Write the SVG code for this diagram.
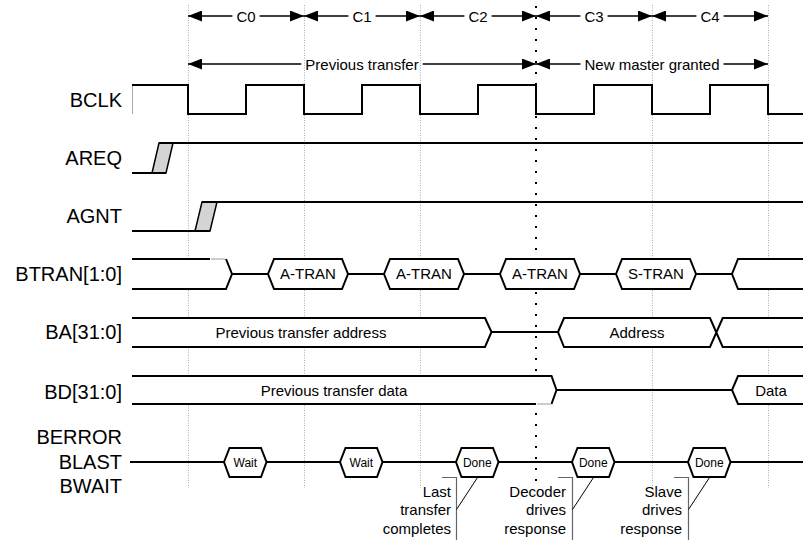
<svg xmlns="http://www.w3.org/2000/svg" width="808" height="540" viewBox="0 0 808 540">
<defs>
<marker id="ah" markerWidth="14" markerHeight="11" refX="14" refY="5.5" orient="auto-start-reverse" markerUnits="userSpaceOnUse"><path d="M0,0 L14,5.5 L0,11 z" fill="#000"/></marker>
</defs>
<style>
text{font-family:"Liberation Sans",Arial,Helvetica,sans-serif;fill:#000}
.lbl{font-size:20px;text-anchor:end}
.t15{font-size:15px;text-anchor:middle}
.t12{font-size:12px;text-anchor:middle}
.note{font-size:15px;text-anchor:end}
.w{fill:none;stroke:#000;stroke-width:2}
.fillw{fill:#fff;stroke:none}
.hex{fill:#fff;stroke:#000;stroke-width:2}
.grid{stroke:#aaa;stroke-width:1;stroke-dasharray:1 1.5}
.mark{stroke:#000;stroke-width:2;stroke-dasharray:2 9}
.arr{stroke:#000;stroke-width:1.3;fill:none}
.tr{fill:#d4d4d4;stroke:#000;stroke-width:1.5}
.faint{fill:none;stroke:#ccc;stroke-width:2}
.call{stroke:#666;stroke-width:1.2;fill:none}
.lead{stroke:#000;stroke-width:1;fill:none}
</style>
<rect width="808" height="540" fill="#fff"/>

<g id="gridlines">
<line class="grid" x1="188.5" y1="5" x2="188.5" y2="488"/>
<line class="grid" x1="304.5" y1="5" x2="304.5" y2="488"/>
<line class="grid" x1="420.5" y1="5" x2="420.5" y2="488"/>
<line class="grid" x1="652.5" y1="5" x2="652.5" y2="488"/>
<line class="grid" x1="768.5" y1="5" x2="768.5" y2="488"/>
<line class="mark" x1="536" y1="6" x2="536" y2="483"/>
</g>

<g id="header">
<line class="arr" x1="188" y1="16" x2="232.4" y2="16" marker-start="url(#ah)"/>
<line class="arr" x1="259.6" y1="16" x2="304" y2="16" marker-end="url(#ah)"/>
<text class="t15" x="246" y="21.5">C0</text>
<line class="arr" x1="304" y1="16" x2="348.4" y2="16" marker-start="url(#ah)"/>
<line class="arr" x1="375.6" y1="16" x2="420" y2="16" marker-end="url(#ah)"/>
<text class="t15" x="362" y="21.5">C1</text>
<line class="arr" x1="420" y1="16" x2="464.4" y2="16" marker-start="url(#ah)"/>
<line class="arr" x1="491.6" y1="16" x2="536" y2="16" marker-end="url(#ah)"/>
<text class="t15" x="478" y="21.5">C2</text>
<line class="arr" x1="536" y1="16" x2="580.4" y2="16" marker-start="url(#ah)"/>
<line class="arr" x1="607.6" y1="16" x2="652" y2="16" marker-end="url(#ah)"/>
<text class="t15" x="594" y="21.5">C3</text>
<line class="arr" x1="652" y1="16" x2="696.4" y2="16" marker-start="url(#ah)"/>
<line class="arr" x1="723.6" y1="16" x2="768" y2="16" marker-end="url(#ah)"/>
<text class="t15" x="710" y="21.5">C4</text>
<line class="arr" x1="188" y1="64" x2="301.3" y2="64" marker-start="url(#ah)"/>
<line class="arr" x1="422.7" y1="64" x2="536" y2="64" marker-end="url(#ah)"/>
<text class="t15" x="362" y="69.5">Previous transfer</text>
<line class="arr" x1="536" y1="64" x2="580.5" y2="64" marker-start="url(#ah)"/>
<line class="arr" x1="723.5" y1="64" x2="768" y2="64" marker-end="url(#ah)"/>
<text class="t15" x="652" y="69.5">New master granted</text>
</g>

<g id="bclk">
<text class="lbl" x="122" y="107">BCLK</text>
<line x1="132.5" y1="85" x2="132.5" y2="114" stroke="#aaa" stroke-width="1"/>
<path class="w" d="M132,85 H188 V114 H246 V85 H304 V114 H362 V85 H420 V114 H478 V85 H536 V114 H594 V85 H652 V114 H710 V85 H768 V114 H803"/>
</g>

<g id="areq">
<text class="lbl" x="122" y="165">AREQ</text>
<polygon class="tr" points="152,173 166,173 173,143 159,143"/>
<path class="w" d="M132,173 H166 M159,143 H803"/>
</g>

<g id="agnt">
<text class="lbl" x="122" y="223">AGNT</text>
<polygon class="tr" points="195,231 210,231 217,202 202,202"/>
<path class="w" d="M132,231 H210 M202,202 H803"/>
</g>

<g id="btran">
<text class="lbl" x="122" y="281">BTRAN[1:0]</text>
<polygon class="fillw" points="132,259 226,259 232,274 226,289 132,289"/>
<path class="w" d="M132,259 H210 M226,259 L232,274 L226,289 H132"/>
<path class="faint" d="M211,259 H225"/>
<path class="w" d="M232,274 H803"/>
<polygon class="hex" points="268,274 274,259 342,259 348,274 342,289 274,289"/>
<text class="t15" x="308" y="279">A-TRAN</text>
<polygon class="hex" points="384,274 390,259 458,259 464,274 458,289 390,289"/>
<text class="t15" x="424" y="279">A-TRAN</text>
<polygon class="hex" points="500,274 506,259 574,259 580,274 574,289 506,289"/>
<text class="t15" x="540" y="279">A-TRAN</text>
<polygon class="hex" points="616,274 622,259 690,259 696,274 690,289 622,289"/>
<text class="t15" x="656" y="279">S-TRAN</text>
<polygon class="fillw" points="803,259 738,259 732,274 738,289 803,289"/>
<path class="w" d="M803,259 H738 L732,274 L738,289 H803"/>
</g>

<g id="ba">
<text class="lbl" x="122" y="339">BA[31:0]</text>
<polygon class="fillw" points="132,318 485,318 491.5,332 485,347 132,347"/>
<path class="w" d="M132,318 H485 L491.5,332 L485,347 H132"/>
<path class="w" d="M491.5,332 H558"/>
<text class="t15" x="301" y="337.5">Previous transfer address</text>
<polygon class="fillw" points="558,332 564,318 710,318 716.3,332 710,347 564,347"/>
<polygon class="fillw" points="716.3,332 722.7,318 803,318 803,347 722.7,347"/>
<path class="w" d="M803,318 H722.7 L710,347 H564 L558,332 L564,318 H710 L722.7,347 H803"/>
<text class="t15" x="637" y="337.5">Address</text>
</g>

<g id="bd">
<text class="lbl" x="122" y="399">BD[31:0]</text>
<polygon class="fillw" points="132,376 551.5,376 556.5,390 551.5,404 132,404"/>
<path class="w" d="M132,376 H551.5 L556.5,390 L551.5,404 M536,404 H132"/>
<path class="faint" d="M537,404 H551"/>
<path class="w" d="M556.5,390 H732"/>
<text class="t15" x="334" y="395.5">Previous transfer data</text>
<polygon class="fillw" points="803,376 738,376 732,390 738,404 803,404"/>
<path class="w" d="M803,376 H738 L732,390 L738,404 H803"/>
<text class="t15" x="771" y="395.5">Data</text>
</g>

<g id="bresp">
<text class="lbl" x="122" y="444">BERROR</text>
<text class="lbl" x="122" y="468.5">BLAST</text>
<text class="lbl" x="122" y="492.5">BWAIT</text>
<path class="w" d="M130,462 H803"/>
<polygon class="hex" points="224,462 229.5,448 261,448 266.5,462 261,477 229.5,477"/>
<text class="t12" x="245.3" y="466.5">Wait</text>
<polygon class="hex" points="340,462 345.5,448 377,448 382.5,462 377,477 345.5,477"/>
<text class="t12" x="361.3" y="466.5">Wait</text>
<polygon class="hex" points="456,462 461.5,448 493,448 498.5,462 493,477 461.5,477"/>
<text class="t12" x="477.3" y="466.5">Done</text>
<polygon class="hex" points="572,462 577.5,448 609,448 614.5,462 609,477 577.5,477"/>
<text class="t12" x="593.3" y="466.5">Done</text>
<polygon class="hex" points="688,462 693.5,448 725,448 730.5,462 725,477 693.5,477"/>
<text class="t12" x="709.3" y="466.5">Done</text>
</g>

<g id="connectors">
<path class="call" d="M442,477.5 H456.5 V540"/>
<line class="lead" x1="456.5" y1="509.5" x2="477.5" y2="477.5"/>
<path class="call" d="M558,477.5 H572.5 V540"/>
<line class="lead" x1="572.5" y1="509.5" x2="593.5" y2="477.5"/>
<path class="call" d="M674,477.5 H688.5 V540"/>
<line class="lead" x1="688.5" y1="509.5" x2="709.5" y2="477.5"/>
</g>

<g id="notes">
<text class="note" x="451" y="496.5">Last</text>
<text class="note" x="451" y="515">transfer</text>
<text class="note" x="451" y="533.5">completes</text>
<text class="note" x="566" y="496.5">Decoder</text>
<text class="note" x="566" y="515">drives</text>
<text class="note" x="566" y="533.5">response</text>
<text class="note" x="682" y="496.5">Slave</text>
<text class="note" x="682" y="515">drives</text>
<text class="note" x="682" y="533.5">response</text>
</g>
</svg>
